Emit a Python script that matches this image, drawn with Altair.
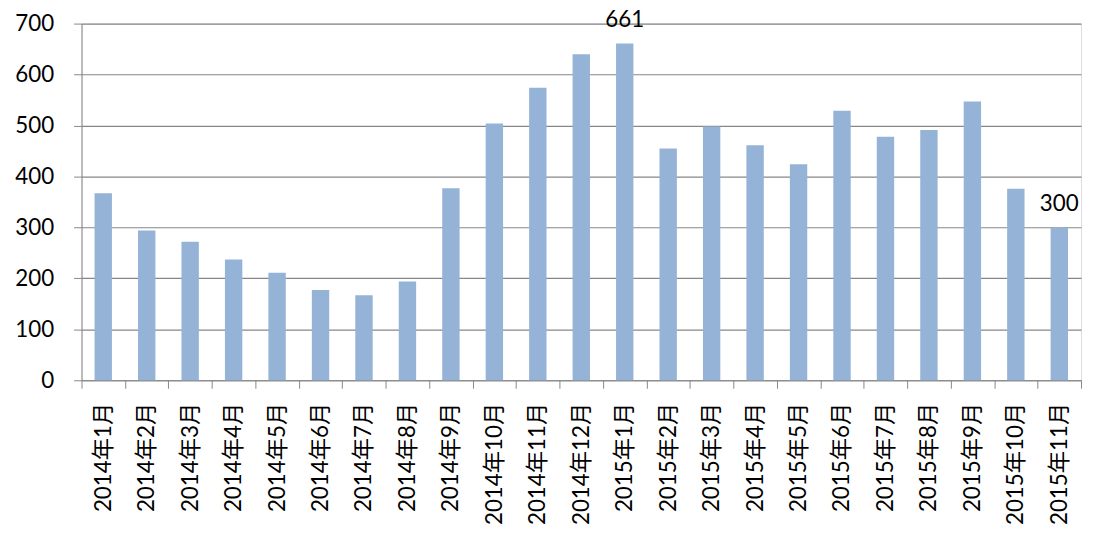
import altair as alt
import pandas as pd

months = [
    "2014年1月", "2014年2月", "2014年3月", "2014年4月", "2014年5月", "2014年6月",
    "2014年7月", "2014年8月", "2014年9月", "2014年10月", "2014年11月", "2014年12月",
    "2015年1月", "2015年2月", "2015年3月", "2015年4月", "2015年5月", "2015年6月",
    "2015年7月", "2015年8月", "2015年9月", "2015年10月", "2015年11月",
]
values = [367, 294, 272, 237, 211, 177, 167, 194, 377, 504, 574, 640,
          661, 455, 498, 461, 424, 529, 478, 491, 547, 376, 300]
labeled_months = ["2015年1月", "2015年11月"]
y_ticks = [0, 100, 200, 300, 400, 500, 600, 700]

df = pd.DataFrame({"month": months, "value": values})
df["show"] = df["month"].isin(labeled_months)

FONT = "Lato, 'Noto Sans CJK SC', sans-serif"
GRID = "#878787"

x = alt.X(
    "month:N", sort=months, title=None,
    scale=alt.Scale(paddingInner=0, paddingOuter=0),
    axis=alt.Axis(labelAngle=-90, tickBand="extent", tickSize=8, tickColor=GRID,
                  domainColor=GRID, labelFont=FONT, labelFontSize=22.5,
                  labelColor="black", labelPadding=14, grid=False),
)
y = alt.Y(
    "value:Q", title=None,
    scale=alt.Scale(domain=[0, 700], nice=False),
    axis=alt.Axis(values=y_ticks, tickSize=8, tickColor=GRID, domainColor=GRID,
                  gridColor=GRID, gridWidth=1.2, labelFont=FONT, labelFontSize=22.5,
                  labelColor="black", labelPadding=20),
)

bars = alt.Chart(df).mark_bar(width=alt.RelativeBandSize(0.4), color="#95B3D7").encode(x=x, y=y)
texts = alt.Chart(df).transform_filter("datum.show").mark_text(
    dy=-17, baseline="alphabetic", fontSize=22.5, font=FONT, color="black"
).encode(x=alt.X("month:N", sort=months), y=alt.Y("value:Q"), text="value:Q")

chart = (bars + texts).properties(
    width=1006, height=359,
    autosize=alt.AutoSizeParams(type="none"),
    padding={"left": 74, "top": 14, "right": 4, "bottom": 148},
).configure_view(stroke=None).configure(background="white")

chart.save("out.html", embed_options={"renderer": "svg", "actions": False})
